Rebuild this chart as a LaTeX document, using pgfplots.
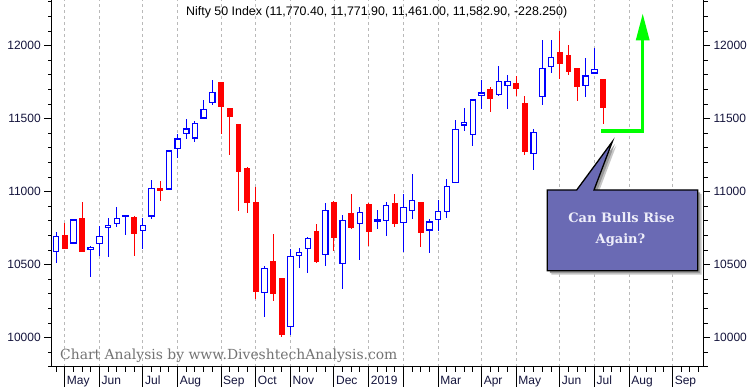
\documentclass[border=0pt]{standalone}
\usepackage{pgfplots}
\pgfplotsset{compat=1.18}
\usepackage{pgfplotstable}
\usepackage{fontspec}
\setmainfont{Liberation Sans}
\newfontfamily\wmfont{DejaVu Serif}
\newfontfamily\calloutfont{DejaVu Serif}
\definecolor{lbl}{RGB}{20,20,60}
\definecolor{gridc}{RGB}{185,185,185}
\definecolor{callfill}{RGB}{106,106,180}
\definecolor{calltext}{RGB}{238,238,250}
\definecolor{upc}{RGB}{0,0,255}
\definecolor{dnc}{RGB}{255,0,0}
\definecolor{arrowg}{RGB}{0,255,0}
\definecolor{wmc}{RGB}{115,115,115}

% up (blue, hollow) weeks: x low open close high
\pgfplotstableread{
x L lo hi H
0 10514 10592 10694 10724
2 10646 10651 10806 10811
4 10418 10605 10617 10626
5 10560 10646 10694 10765
6 10551 10761 10770 10820
7 10761 10783 10818 10895
8 10706 10831 10836 10840
10 10610 10735 10770 10820
11 10811 10836 11023 11080
13 11012 11021 11279 11286
14 11233 11297 11361 11395
15 11363 11400 11429 11498
16 11343 11370 11468 11484
17 11498 11507 11564 11628
18 11596 11612 11681 11765
24 10144 10311 10473 10489
27 10021 10078 10557 10608
28 10480 10564 10582 10612
29 10446 10612 10681 10688
31 10493 10571 10872 10923
33 10336 10509 10804 10840
35 10534 10783 10859 10893
37 10742 10802 10806 10875
38 10699 10804 10907 10929
40 10589 10790 10893 10984
41 10813 10872 10941 11121
43 10582 10740 10792 10811
44 10733 10811 10866 10943
45 10822 10866 11037 11085
46 11062 11064 11427 11491
47 11418 11459 11475 11573
48 11315 11393 11628 11635
49 11566 11665 11676 11765
51 11653 11667 11756 11861
52 11569 11728 11756 11799
55 11149 11263 11407 11429
56 11596 11653 11845 12039
57 11815 11859 11920 12039
61 11649 11728 11792 11913
62 11804 11815 11838 11984
}\uptable

% down (red, filled) weeks: x low close open high
\pgfplotstableread{
x L lo hi H
1 10612 10617 10703 10788
3 10596 10596 10820 10929
9 10562 10720 10827 10831
12 10934 11014 11019 11071
19 11395 11589 11751 11751
20 11251 11521 11571 11571
21 10868 11144 11461 11461
22 10856 10929 11160 11171
23 10267 10322 10929 11034
25 10254 10308 10525 10710
26 10007 10028 10409 10409
30 10514 10528 10731 10779
32 10596 10692 10929 10939
34 10747 10760 10854 10984
36 10628 10733 10916 10923
39 10760 10788 10923 10984
42 10624 10726 10929 10929
50 11548 11644 11701 11715
53 11655 11713 11744 11792
54 11254 11281 11607 11655
58 11772 11879 11954 12101
59 11799 11829 11936 12005
60 11624 11726 11847 11847
63 11461 11582.9 11770.4 11771.9
}\dntable

\pgfplotsset{
  candleaxis/.style={
    scale only axis, width=651.3pt, height=367pt,
    at={(0pt,0pt)}, anchor=south west,
    xmin=-0.5, xmax=74.5, ymin=9799.4, ymax=12313,
    tick align=outside,
    tick style={black, line width=1pt},
    axis line style={black, line width=1pt},
    tick label style={font=\fontsize{12}{14}\selectfont, text=lbl},
    /pgf/number format/assume math mode=true,
    /pgf/number format/set thousands separator={},
    scaled y ticks=false,
  },
  candlebar/.style={only marks, mark=none, forget plot,
    mark options={draw=none, fill=none}, mark size=0pt,
    error bars/y explicit, error bars/error mark=none,
    error bars/error bar style={line cap=butt, #1}},
}

\begin{document}
\begin{tikzpicture}
\useasboundingbox (-51.7pt,-20pt) rectangle (702.3pt,367pt);

% main axis: candles, month grid, x ticks
\begin{axis}[candleaxis,
  axis x line*=bottom, axis y line=none,
  ytick=\empty,
  xtick={1,5,10,14,19,23,27,32,36,40,44,49,53,58,62,66,71},
  xticklabels={May,Jun,Jul,Aug,Sep,Oct,Nov,Dec,2019,{},Mar,Apr,May,Jun,Jul,Aug,Sep},
  minor xtick={0,...,74},
  major tick length=20pt, minor tick length=5pt,
  xmajorgrids,
  major grid style={gridc, line width=0.8pt, dash pattern=on 3pt off 3pt},
  xticklabel style={anchor=base west, inner sep=0pt, xshift=2pt, yshift=3pt},
]
% wicks (low to high)
\addplot[candlebar={draw=upc, line width=1pt}, error bars/y dir=both]
  table[x=x, y=lo, y error plus expr=\thisrow{H}-\thisrow{lo}, y error minus expr=\thisrow{lo}-\thisrow{L}] {\uptable};
\addplot[candlebar={draw=dnc, line width=1pt}, error bars/y dir=both]
  table[x=x, y=lo, y error plus expr=\thisrow{H}-\thisrow{lo}, y error minus expr=\thisrow{lo}-\thisrow{L}] {\dntable};
% red filled bodies (open to close)
\addplot[candlebar={draw=dnc, line width=5.8pt}, error bars/y dir=both]
  table[x=x, y=lo, y error plus expr=\thisrow{hi}-\thisrow{lo}+3, y error minus expr=3] {\dntable};
% blue hollow bodies: outline, then white inside
\addplot[candlebar={draw=upc, line width=6.6pt}, error bars/y dir=both]
  table[x=x, y=lo, y error plus expr=\thisrow{hi}-\thisrow{lo}+4.1, y error minus expr=4.1] {\uptable};
\addplot[candlebar={draw=white, line width=4.2pt}, error bars/y dir=plus]
  table[x=x, y expr=\thisrow{lo}+4.1, y error plus expr={max(\thisrow{hi}-\thisrow{lo}-8.2,0)}] {\uptable};
\end{axis}

% left y axis
\begin{axis}[candleaxis,
  axis x line=none, xtick=\empty, axis y line*=left,
  ytick={10000,10500,11000,11500,12000},
  minor ytick={9800,9900,...,12300},
  major tick length=7.4pt, minor tick length=3.6pt,
]
\end{axis}

% right y axis
\begin{axis}[candleaxis,
  axis x line=none, xtick=\empty, axis y line*=right,
  yticklabel pos=right,
  ytick={10000,10500,11000,11500,12000},
  minor ytick={9800,9900,...,12300},
  major tick length=7pt, minor tick length=4.6pt,
]
\end{axis}

% annotations in pixel coordinates of the reference
\begin{scope}[shift={(-51.7pt,367pt)}, x=1pt, y=-1pt]
  \node[anchor=base west, inner sep=0pt, font=\fontsize{12.4}{14}\selectfont] at (186,15.3)
    {Nifty 50 Index (11,770.40, 11,771.90, 11,461.00, 11,582.90, -228.250)};
  \node[anchor=base west, inner sep=0pt, font=\wmfont\fontsize{13.9}{16}\selectfont, text=wmc] at (60,360)
    {Chart Analysis by www.DiveshtechAnalysis.com};
  % callout shadow
  \fill[black!22] (551.3,194) -- (580.7,194) -- (616.3,145.7) -- (598,194) -- (701.7,194) -- (701.7,274.7) -- (551.3,274.7) -- cycle;
  \fill[black!40] (549.8,192.5) -- (579.2,192.5) -- (614.8,144.2) -- (596.5,192.5) -- (700.2,192.5) -- (700.2,273.2) -- (549.8,273.2) -- cycle;
  \filldraw[fill=callfill, draw=black, line width=1.3pt, line join=miter]
    (547.3,190) -- (576.7,190) -- (612.3,141.7) -- (594,190) -- (697.7,190) -- (697.7,270.7) -- (547.3,270.7) -- cycle;
  \node[anchor=base, inner sep=0pt, font=\calloutfont\bfseries\fontsize{13}{16}\selectfont, text=calltext] at (621.5,222.7) {Can Bulls Rise};
  \node[anchor=base, inner sep=0pt, font=\calloutfont\bfseries\fontsize{13}{16}\selectfont, text=calltext] at (620.5,243.3) {Again?};
  % green arrow
  \draw[arrowg, line width=3.2pt, line join=miter] (601,131) -- (642.7,131) -- (642.7,38);
  \fill[arrowg] (635.7,40.5) -- (642.7,14) -- (649.7,40.5) -- cycle;
\end{scope}
\end{tikzpicture}
\end{document}
